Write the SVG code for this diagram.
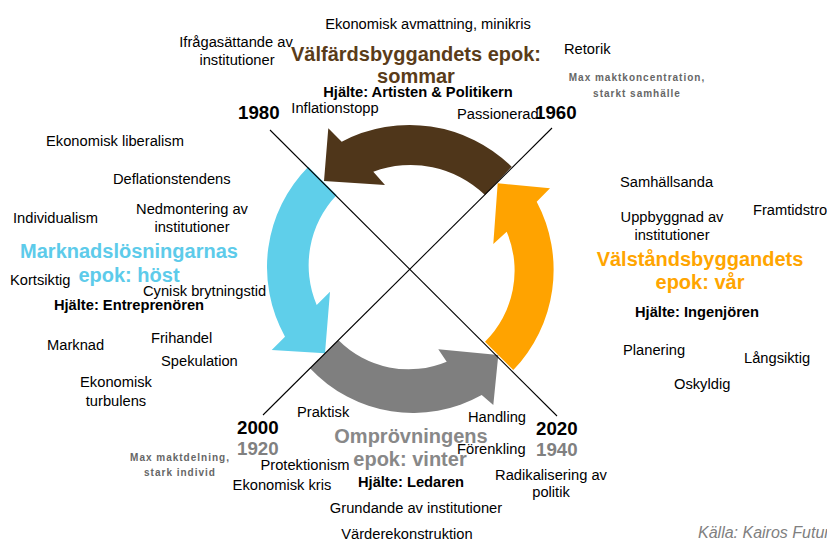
<svg xmlns="http://www.w3.org/2000/svg" width="827" height="543" viewBox="0 0 827 543">
<style>
text{font-family:"Liberation Sans",Arial,sans-serif;}
.t{font-size:14.7px;fill:#000;}
.c{text-anchor:middle;}
.b{font-weight:bold;}
.h{font-size:14.7px;font-weight:bold;fill:#000;}
.yr{font-size:18.7px;font-weight:bold;fill:#000;}
.yg{font-size:18.7px;font-weight:bold;fill:#808080;}
.ti{font-size:20px;font-weight:bold;text-anchor:middle;}
.sm{font-size:10px;font-weight:bold;fill:#666;letter-spacing:1px;text-anchor:middle;}
.ln{stroke:#000;stroke-width:1.1;fill:none;}
</style>
<rect width="827" height="543" fill="#fff"/>
<g id="arrow-summer">
<path fill="#4f361a" d="M511.7,166.7 A146,146 0 0 0 341.7,141.7 L328.3,128.3 L324,181 L385,185 L373.3,171.7 A107,107 0 0 1 485,195 Z"/>
</g>
<g id="arrow-autumn">
<path fill="#5fcfea" d="M308.3,166.7 A143,143 0 0 0 285,336.7 L271.7,350 L325,353.3 L330,291.7 L316.7,305 A102,102 0 0 1 336.7,195 Z"/>
</g>
<g id="arrow-spring">
<path fill="#ffa300" d="M513.3,370 A145,145 0 0 0 536.7,201.7 L550,188.3 L497.7,183.3 L493.3,244 L506.7,231.7 A100,100 0 0 1 485,341.7 Z"/>
</g>
<g id="arrow-winter">
<path fill="#7f7f7f" d="M310,368.3 A141,141 0 0 0 481.7,395 L493.3,405 L498.3,355 L438.3,349.3 L446.7,361.7 A99,99 0 0 1 338.3,340 Z"/>
</g>
<g id="connectors">
<line class="ln" x1="270" y1="130" x2="557" y2="416"/>
<line class="ln" x1="552" y1="128" x2="263" y2="415"/>
</g>
<g id="summer">
<text class="t c" x="428" y="29">Ekonomisk avmattning, minikris</text>
<text class="t c" x="236" y="47">Ifrågasättande av</text>
<text class="t c" x="237" y="65">institutioner</text>
<text class="ti" x="416" y="61" fill="#5a3c19">Välfärdsbyggandets epok:</text>
<text class="ti" x="416" y="83" fill="#5a3c19">sommar</text>
<text class="h c" x="418" y="97">Hjälte: Artisten &amp; Politikern</text>
<text class="t" x="564" y="54">Retorik</text>
<text class="sm" x="637" y="81">Max maktkoncentration,</text>
<text class="sm" x="637" y="97">starkt samhälle</text>
<text class="t c" x="335" y="113">Inflationstopp</text>
<text class="t" x="457" y="119">Passionerad</text>
<text class="yr" x="238" y="119">1980</text>
<text class="yr" x="535" y="119">1960</text>
</g>
<g id="autumn">
<text class="t" x="46" y="146">Ekonomisk liberalism</text>
<text class="t" x="113" y="184">Deflationstendens</text>
<text class="t" x="13" y="223">Individualism</text>
<text class="t c" x="192" y="214">Nedmontering av</text>
<text class="t c" x="192" y="232">institutioner</text>
<text class="ti" x="129" y="258" fill="#5dcbea">Marknadslösningarnas</text>
<text class="ti" x="129" y="282" fill="#5dcbea">epok: höst</text>
<text class="t" x="10" y="285">Kortsiktig</text>
<text class="t" x="143" y="296">Cynisk brytningstid</text>
<text class="h c" x="129" y="310">Hjälte: Entreprenören</text>
<text class="t" x="47" y="350">Marknad</text>
<text class="t" x="151" y="343">Frihandel</text>
<text class="t" x="161" y="366">Spekulation</text>
<text class="t c" x="116" y="387">Ekonomisk</text>
<text class="t c" x="116" y="406">turbulens</text>
</g>
<g id="spring">
<text class="t" x="620" y="187">Samhällsanda</text>
<text class="t c" x="672" y="222">Uppbyggnad av</text>
<text class="t c" x="672" y="240">institutioner</text>
<text class="t" x="753" y="215">Framtidstro</text>
<text class="ti" x="700" y="266" fill="#ffa500">Välståndsbyggandets</text>
<text class="ti" x="700" y="289" fill="#ffa500">epok: vår</text>
<text class="h c" x="697" y="317">Hjälte: Ingenjören</text>
<text class="t" x="623" y="355">Planering</text>
<text class="t" x="744" y="363">Långsiktig</text>
<text class="t" x="674" y="389">Oskyldig</text>
</g>
<g id="winter">
<text class="yr" x="237" y="434">2000</text>
<text class="yg" x="237" y="455">1920</text>
<text class="sm" x="180" y="461">Max maktdelning,</text>
<text class="sm" x="180" y="476">stark individ</text>
<text class="t" x="297" y="417">Praktisk</text>
<text class="t c" x="305" y="470">Protektionism</text>
<text class="t c" x="282" y="490">Ekonomisk kris</text>
<text class="ti" x="411" y="443" fill="#888">Omprövningens</text>
<text class="ti" x="410" y="466" fill="#888">epok: vinter</text>
<text class="h c" x="411" y="487">Hjälte: Ledaren</text>
<text class="t" x="468" y="422">Handling</text>
<text class="t" x="457" y="454">Förenkling</text>
<text class="yr" x="536" y="435">2020</text>
<text class="yg" x="536" y="456">1940</text>
<text class="t c" x="551" y="480">Radikalisering av</text>
<text class="t c" x="551" y="497">politik</text>
<text class="t c" x="416" y="513">Grundande av institutioner</text>
<text class="t c" x="407" y="539">Värderekonstruktion</text>
</g>
<g id="source">
<text x="698" y="538" font-size="16" font-style="italic" fill="#808080">Källa: Kairos Future</text>
</g>
</svg>
